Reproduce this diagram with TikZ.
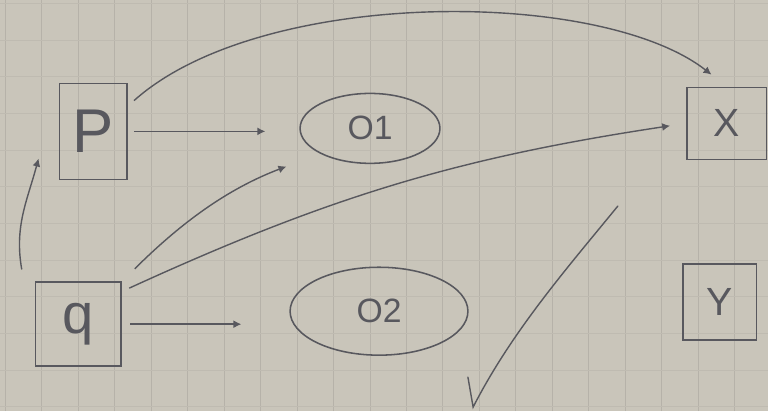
\documentclass[tikz, border = 0pt]{standalone}
\usepackage{fontspec}
\setmainfont{Liberation Sans}
\usetikzlibrary{arrows.meta, positioning, calc, shapes.geometric}
\definecolor{PaperBeige}{RGB}{201, 197, 186}
\definecolor{GridLine}{RGB}{182, 178, 169}
\definecolor{GridFaint}{RGB}{191, 187, 177}
\definecolor{Pencil}{RGB}{88, 88, 94}
\definecolor{PencilDark}{RGB}{55, 52, 70}

\begin{document}
\begin{tikzpicture}[
        box/.style = {draw = Pencil, line width = 1.1pt, inner sep = 0pt, text = Pencil},
        oval/.style = {ellipse, draw = Pencil, line width = 1.1pt, inner sep = 0pt, text = Pencil, font = \fontsize{24}{26}\selectfont},
        arr/.style = {-{Latex[length = 2mm, width = 2mm]}, line width = 1pt, Pencil}
    ]
        % paper
        \fill[PaperBeige] (0, 0) rectangle (19.2, 10.275);
        \foreach \i in {0, ..., 20} {
            \draw[GridLine, line width = 0.7pt] ({0.125 + 0.9125*\i}, 0) -- ++(0, 10.275);
        }
        \foreach \j in {0, ..., 11} {
            \draw[GridFaint, line width = 0.5pt] (0, {10.2 - 0.9175*\j}) -- ++(19.2, 0);
        }
        \useasboundingbox (0, 0) rectangle (19.2, 10.275);

        % boxes
        \node[box, minimum width = 1.7cm, minimum height = 2.4cm, font = \fontsize{44}{46}\selectfont] (p) at (2.325, 7.0) {P};
        \node[box, minimum width = 2.15cm, minimum height = 2.1cm, font = \fontsize{40}{42}\selectfont] (q) at (1.95, 2.175) {q};
        \node[box, minimum width = 2.0cm, minimum height = 1.8cm, font = \fontsize{28}{30}\selectfont] (x) at (18.175, 7.2) {X};
        \node[box, minimum width = 1.85cm, minimum height = 1.9cm, font = \fontsize{28}{30}\selectfont] (y) at (18.0, 2.725) {Y};

        % ovals
        \node[oval, minimum width = 3.5cm, minimum height = 1.75cm] (o1) at (9.25, 7.075) {O1};
        \node[oval, minimum width = 4.45cm, minimum height = 2.2cm] (o2) at (9.475, 2.5) {O2};

        % connectors
        \draw[arr, shorten < = 0.15cm, shorten > = 0.85cm] (p.east) -- (p.east -| o1.west);
        \draw[arr, shorten < = 0.2cm, shorten > = 1.2cm] (q.east) -- (q.east -| o2.west);
        \draw[arr] ([shift = {(-0.32, 0.3)}]q.north west) to[out = 100, in = -105] ([shift = {(-0.5, -0.68)}]p.west);
        \draw[arr] ([shift = {(0.15, -0.45)}]p.north east) .. controls (6.5, 10.6) and (15, 10.6) .. ([shift = {(-0.38, 0.3)}]x.north);
        \draw[arr, shorten < = 0.45cm, shorten > = 0.9cm] (q.north east) to[bend left = 12] (o1.south west);
        \draw[arr, shorten < = 0.2cm, shorten > = 0.4cm] ([yshift = -0.25cm]q.north east) to[bend left = 8] (x.west);

        % tick
        \draw[Pencil, line width = 1pt, line cap = round] (11.7, 0.85) -- (11.83, 0.1) .. controls (12.8, 2.0) and (14.2, 3.6) .. (15.45, 5.13);
    \end{tikzpicture}
\end{document}
